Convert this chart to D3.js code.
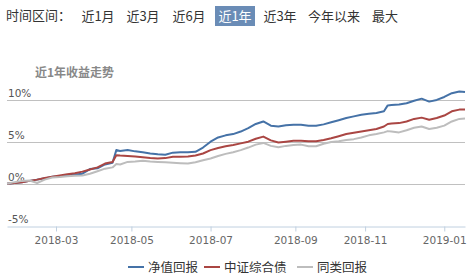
<!DOCTYPE html>
<html>
<head>
<meta charset="utf-8">
<script src="https://cdn.jsdelivr.net/npm/d3@7"></script>
<style>
  body { margin: 0; background: #fff; }
  svg { display: block; font-family: "DejaVu Sans", "Noto Sans CJK SC", sans-serif; }
</style>
</head>
<body>
<div id="chart"></div>
<script>
// time range buttons
const ranges = ['近1月', '近3月', '近6月', '近1年', '近3年', '今年以来', '最大'];
const activeRange = '近1年';

// x axis: trading-day index, first session of each labelled month
const tickDays = [26, 66, 108, 153, 190, 232];
const tickLabels = ['2018-03', '2018-05', '2018-07', '2018-09', '2018-11', '2019-01'];
const lastDay = 243;

// y axis (%)
const yTicks = [-5, 0, 5, 10];

// sample points (trading-day index) and cumulative returns (%)
const days = [0, 4, 8, 12, 16, 20, 24, 28, 32, 36, 40, 44, 48, 52, 56, 58, 60, 64, 68, 72,
  76, 80, 84, 88, 92, 96, 100, 104, 108, 112, 116, 120, 124, 128, 132, 136, 140, 144, 148, 152,
  156, 160, 164, 168, 172, 176, 180, 184, 188, 192, 196, 200, 202, 204, 208, 212, 216, 220, 224, 228,
  232, 236, 240, 243];
const fundReturn = [0, 0.1, 0.2, 0.35, 0.5, 0.65, 0.85, 0.9, 1.0, 1.1, 1.2, 1.75, 1.85, 2.3, 2.5, 4.0, 3.9, 4.0, 3.85, 3.75,
  3.6, 3.5, 3.45, 3.7, 3.75, 3.75, 3.8, 4.3, 5.0, 5.5, 5.75, 5.9, 6.2, 6.6, 7.1, 7.4, 6.9, 6.8, 6.95, 7.0,
  7.0, 6.9, 6.9, 7.05, 7.3, 7.55, 7.8, 8.0, 8.2, 8.3, 8.4, 8.6, 9.3, 9.35, 9.4, 9.55, 9.85, 10.1, 9.75, 9.95,
  10.3, 10.75, 10.95, 10.9];
const indexReturn = [0, 0.1, 0.2, 0.35, 0.5, 0.7, 0.85, 1.0, 1.15, 1.25, 1.45, 1.7, 1.95, 2.4, 2.6, 3.4, 3.35, 3.3, 3.25, 3.15,
  3.05, 3.0, 3.05, 3.2, 3.2, 3.25, 3.35, 3.6, 4.0, 4.25, 4.45, 4.6, 4.8, 5.0, 5.35, 5.6, 5.15, 4.9, 5.0, 5.1,
  5.1, 5.05, 5.05, 5.2, 5.4, 5.65, 5.9, 6.05, 6.2, 6.35, 6.5, 6.8, 7.1, 7.15, 7.2, 7.4, 7.7, 7.85, 7.6, 7.8,
  8.1, 8.6, 8.8, 8.8];
const peerReturn = [0, 0.2, 0.35, 0.4, 0.1, 0.5, 0.75, 0.8, 0.9, 0.95, 1.0, 1.2, 1.5, 1.8, 1.95, 2.35, 2.3, 2.6, 2.65, 2.75,
  2.65, 2.6, 2.55, 2.5, 2.45, 2.4, 2.55, 2.8, 3.0, 3.3, 3.55, 3.75, 4.0, 4.3, 4.65, 4.85, 4.5, 4.35, 4.5, 4.6,
  4.65, 4.45, 4.45, 4.75, 4.95, 5.05, 5.2, 5.3, 5.5, 5.75, 5.9, 6.1, 6.25, 6.2, 6.1, 6.35, 6.65, 6.8, 6.5, 6.65,
  6.9, 7.4, 7.7, 7.75];

const seriesNames = ['净值回报', '中证综合债', '同类回报'];
const seriesColors = ['#4572a7', '#aa4643', '#bdbdbd'];
const seriesValues = [fundReturn, indexReturn, peerReturn];

const width = 475;
const height = 277;

const svg = d3.select('#chart')
  .append('svg')
  .attr('width', width)
  .attr('height', height);

// range selector bar
svg.append('text')
  .attr('x', 6)
  .attr('y', 20)
  .attr('font-size', 13)
  .attr('fill', '#333')
  .attr('font-family', '"Noto Sans CJK SC", sans-serif')
  .text('时间区间：');

const btnCenters = [98, 143, 189, 235, 280, 334, 385];
const btnWidths = [30, 30, 30, 40, 30, 50, 26];
const btns = svg.append('g')
  .attr('font-family', '"Noto Sans CJK SC", sans-serif')
  .attr('font-size', 13);

ranges.forEach((r, i) => {
  const active = r === activeRange;
  if (active) {
    btns.append('rect')
      .attr('x', btnCenters[i] - btnWidths[i] / 2)
      .attr('y', 6)
      .attr('width', btnWidths[i])
      .attr('height', 20)
      .attr('fill', '#6a8cb6');
  }
  btns.append('text')
    .attr('x', btnCenters[i])
    .attr('y', 20.5)
    .attr('text-anchor', 'middle')
    .attr('fill', active ? '#fff' : '#333')
    .text(r);
});

// chart title
svg.append('text')
  .attr('x', 35)
  .attr('y', 77)
  .attr('font-size', 12)
  .attr('font-weight', 'bold')
  .attr('fill', '#888')
  .attr('font-family', '"Noto Sans CJK SC", sans-serif')
  .text('近1年收益走势');

const x = d3.scaleLinear()
  .domain([0, lastDay])
  .range([7, 465]);

const y = d3.scaleLinear()
  .domain([-5, 10])
  .range([226, 99.5]);

// grid lines + labels
const grid = svg.append('g');
grid.selectAll('line')
  .data(yTicks.filter(t => t > -5))
  .enter()
  .append('line')
  .attr('x1', 7)
  .attr('x2', 465)
  .attr('y1', d => Math.round(y(d)) + 0.5)
  .attr('y2', d => Math.round(y(d)) + 0.5)
  .attr('stroke', '#c0c0c0');

grid.selectAll('text')
  .data(yTicks)
  .enter()
  .append('text')
  .attr('x', 8)
  .attr('y', d => y(d) - 3)
  .attr('font-size', 10.5)
  .attr('fill', '#555')
  .text(d => `${d}%`);

// x axis
svg.append('g')
  .attr('transform', `translate(0, ${Math.round(y(-5)) + 0.5})`)
  .call(d3.axisBottom(x)
    .tickValues(tickDays)
    .tickFormat((d, i) => tickLabels[i])
    .tickSize(5)
    .tickSizeOuter(0))
  .call(g => g.select('.domain').attr('stroke', '#c0d0e0'))
  .call(g => g.selectAll('.tick line').attr('stroke', '#c0d0e0'))
  .call(g => g.selectAll('.tick text')
    .attr('fill', '#666')
    .attr('font-size', 10.5)
    .attr('font-family', '"DejaVu Sans", sans-serif')
    .attr('dy', '0.9em'));

// series lines
const line = d3.line()
  .x((d, i) => x(days[i]))
  .y(d => y(d));

seriesValues.forEach((vals, s) => {
  svg.append('path')
    .datum(vals)
    .attr('d', line)
    .attr('fill', 'none')
    .attr('stroke', seriesColors[s])
    .attr('stroke-width', 2)
    .attr('stroke-linejoin', 'round');
});

// legend
const legendX = [128, 204, 297];
const legend = svg.append('g')
  .attr('font-family', '"Noto Sans CJK SC", sans-serif')
  .attr('font-size', 12.5);

seriesNames.forEach((name, i) => {
  legend.append('line')
    .attr('x1', legendX[i])
    .attr('x2', legendX[i] + 16)
    .attr('y1', 267)
    .attr('y2', 267)
    .attr('stroke', seriesColors[i])
    .attr('stroke-width', 2);
  legend.append('text')
    .attr('x', legendX[i] + 20)
    .attr('y', 271.5)
    .attr('fill', '#333')
    .text(name);
});
</script>
</body>
</html>
